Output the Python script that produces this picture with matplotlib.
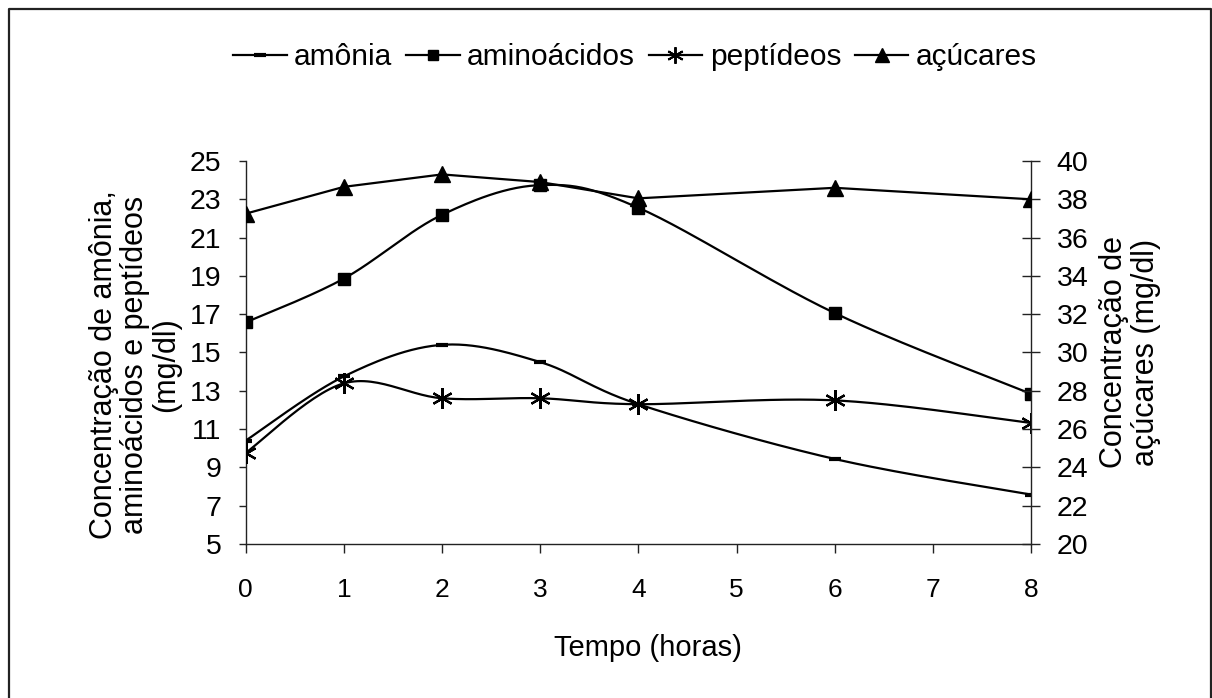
import numpy as np
import matplotlib
matplotlib.use("Agg")
import matplotlib.pyplot as plt
from matplotlib import font_manager
from matplotlib.lines import Line2D

# ---------------- data ----------------
tempo = [0, 1, 2, 3, 4, 6, 8]
amonia = [10.4, 13.75, 15.4, 14.5, 12.3, 9.44, 7.58]
aminoacidos = [16.57, 18.86, 22.19, 23.74, 22.56, 17.06, 12.84]
peptideos = [9.76, 13.39, 12.61, 12.61, 12.3, 12.5, 11.32]
acucares = [37.25, 38.65, 39.3, 38.9, 38.05, 38.6, 38.0]

x_ticks = [0, 1, 2, 3, 4, 5, 6, 7, 8]
y_left_ticks = [5, 7, 9, 11, 13, 15, 17, 19, 21, 23, 25]
y_right_ticks = [20, 22, 24, 26, 28, 30, 32, 34, 36, 38, 40]

legend_labels = ["amônia", "aminoácidos", "peptídeos", "açúcares"]
x_title = "Tempo (horas)"
y_left_title = "Concentração de amônia,\naminoácidos e peptídeos\n(mg/dl)"
y_right_title = "Concentração de\naçúcares (mg/dl)"

# ---------------- fonts ----------------
names = {f.name for f in font_manager.fontManager.ttflist}
base_font = "Liberation Sans" if "Liberation Sans" in names else "DejaVu Sans"
plt.rcParams["font.family"] = [base_font, "DejaVu Sans"]


def smooth(xs, ys, n=30):
    """Excel-like Bezier smoothing through the data points (drawing only)."""
    P = np.column_stack([xs, ys]).astype(float)
    m = len(P)
    out = [P[0]]
    for i in range(m - 1):
        p0 = P[i - 1] if i > 0 else P[i]
        p1 = P[i]
        p2 = P[i + 1]
        p3 = P[i + 2] if i + 2 < m else P[i + 1]
        c1 = p1 + (p2 - p0) / 6.0
        c2 = p2 - (p3 - p1) / 6.0
        t = np.linspace(0, 1, n)[1:, None]
        seg = ((1 - t) ** 3) * p1 + 3 * ((1 - t) ** 2) * t * c1 + 3 * (1 - t) * t ** 2 * c2 + t ** 3 * p2
        out.extend(seg)
    out = np.array(out)
    return out[:, 0], out[:, 1]


W, H = 1212, 698
fig = plt.figure(figsize=(W / 100, H / 100), dpi=100)
fig.patch.set_facecolor("white")

x0, x1 = 245.7, 1031.0
y_top, y_bot = 161.0, 544.0
ax = fig.add_axes([x0 / W, 1 - y_bot / H, (x1 - x0) / W, (y_bot - y_top) / H])
ax2 = ax.twinx()

lw = 1.6
col = "black"

# amônia (smoothed, dash marker)
sx, sy = smooth(tempo, amonia)
ax.plot(sx, sy, color=col, lw=lw, zorder=3)
ax.plot(tempo, amonia, ls="none", marker="_", ms=8, mew=3, color=col, zorder=4)

# aminoácidos (smoothed, square)
sx, sy = smooth(tempo, aminoacidos)
ax.plot(sx, sy, color=col, lw=lw, zorder=3)
ax.plot(tempo, aminoacidos, ls="none", marker="s", ms=9, color=col, zorder=4)

# peptídeos (smoothed, asterisk)
sx, sy = smooth(tempo, peptideos)
ax.plot(sx, sy, color=col, lw=lw, zorder=3)
ax.plot(tempo, peptideos, ls="none", marker=(6, 2, 0), ms=15, mew=1.6, color=col, zorder=4)

# açúcares (straight, triangle) on right axis
ax2.plot(tempo, acucares, color=col, lw=lw, marker="^", ms=11.5, zorder=3)

ax.set_xlim(0, 8)
ax.set_ylim(5, 25)
ax2.set_ylim(20, 40)
ax.set_xticks(x_ticks)
ax.set_yticks(y_left_ticks)
ax2.set_yticks(y_right_ticks)

for a in (ax, ax2):
    for s in a.spines.values():
        s.set_visible(False)
ax.spines["left"].set_visible(True)
ax.spines["bottom"].set_visible(True)
ax2.spines["right"].set_visible(True)
for s in (ax.spines["left"], ax.spines["bottom"], ax2.spines["right"]):
    s.set_linewidth(1.0)
    s.set_color("#222222")

ax.tick_params(axis="x", direction="out", length=6.5, width=1.0, pad=18, labelsize=19, colors="#222222", labelcolor="black")
ax.tick_params(axis="y", direction="out", length=5, width=1.0, pad=12.5, labelsize=20.5, colors="#222222", labelcolor="black")
ax2.tick_params(axis="y", direction="inout", length=13, width=1.0, pad=12, labelsize=20.5, colors="#222222", labelcolor="black")

fig.text(648 / W, 1 - 648 / H, x_title, ha="center", va="center", fontsize=21)

fig.text(135 / W, 1 - 365 / H, y_left_title, rotation=90, ha="center", va="center",
         fontsize=22, multialignment="center", linespacing=1.05)
fig.text(1130 / W, 1 - 352 / H, y_right_title, rotation=90, ha="center", va="center",
         fontsize=22, multialignment="center", linespacing=1.05)

# legend
handles = [
    Line2D([], [], color=col, lw=lw, marker="_", ms=8, mew=3),
    Line2D([], [], color=col, lw=lw, marker="s", ms=7),
    Line2D([], [], color=col, lw=lw, marker=(6, 2, 0), ms=12, mew=1.4),
    Line2D([], [], color=col, lw=lw, marker="^", ms=9.5),
]
fig.legend(handles, legend_labels, loc="center", bbox_to_anchor=(635 / W, 1 - 57 / H),
           ncol=4, frameon=False, handlelength=1.8, handletextpad=0.25, columnspacing=0.45,
           prop={"family": base_font, "size": 21.5})

# outer border
fig.add_artist(Line2D([8.5 / W, 8.5 / W, 1210.5 / W, 1210.5 / W],
                      [0, 1 - 8.5 / H, 1 - 8.5 / H, 0],
                      transform=fig.transFigure, color="#222222", lw=1.6))

fig.savefig("out.png", dpi=100, facecolor="white")
